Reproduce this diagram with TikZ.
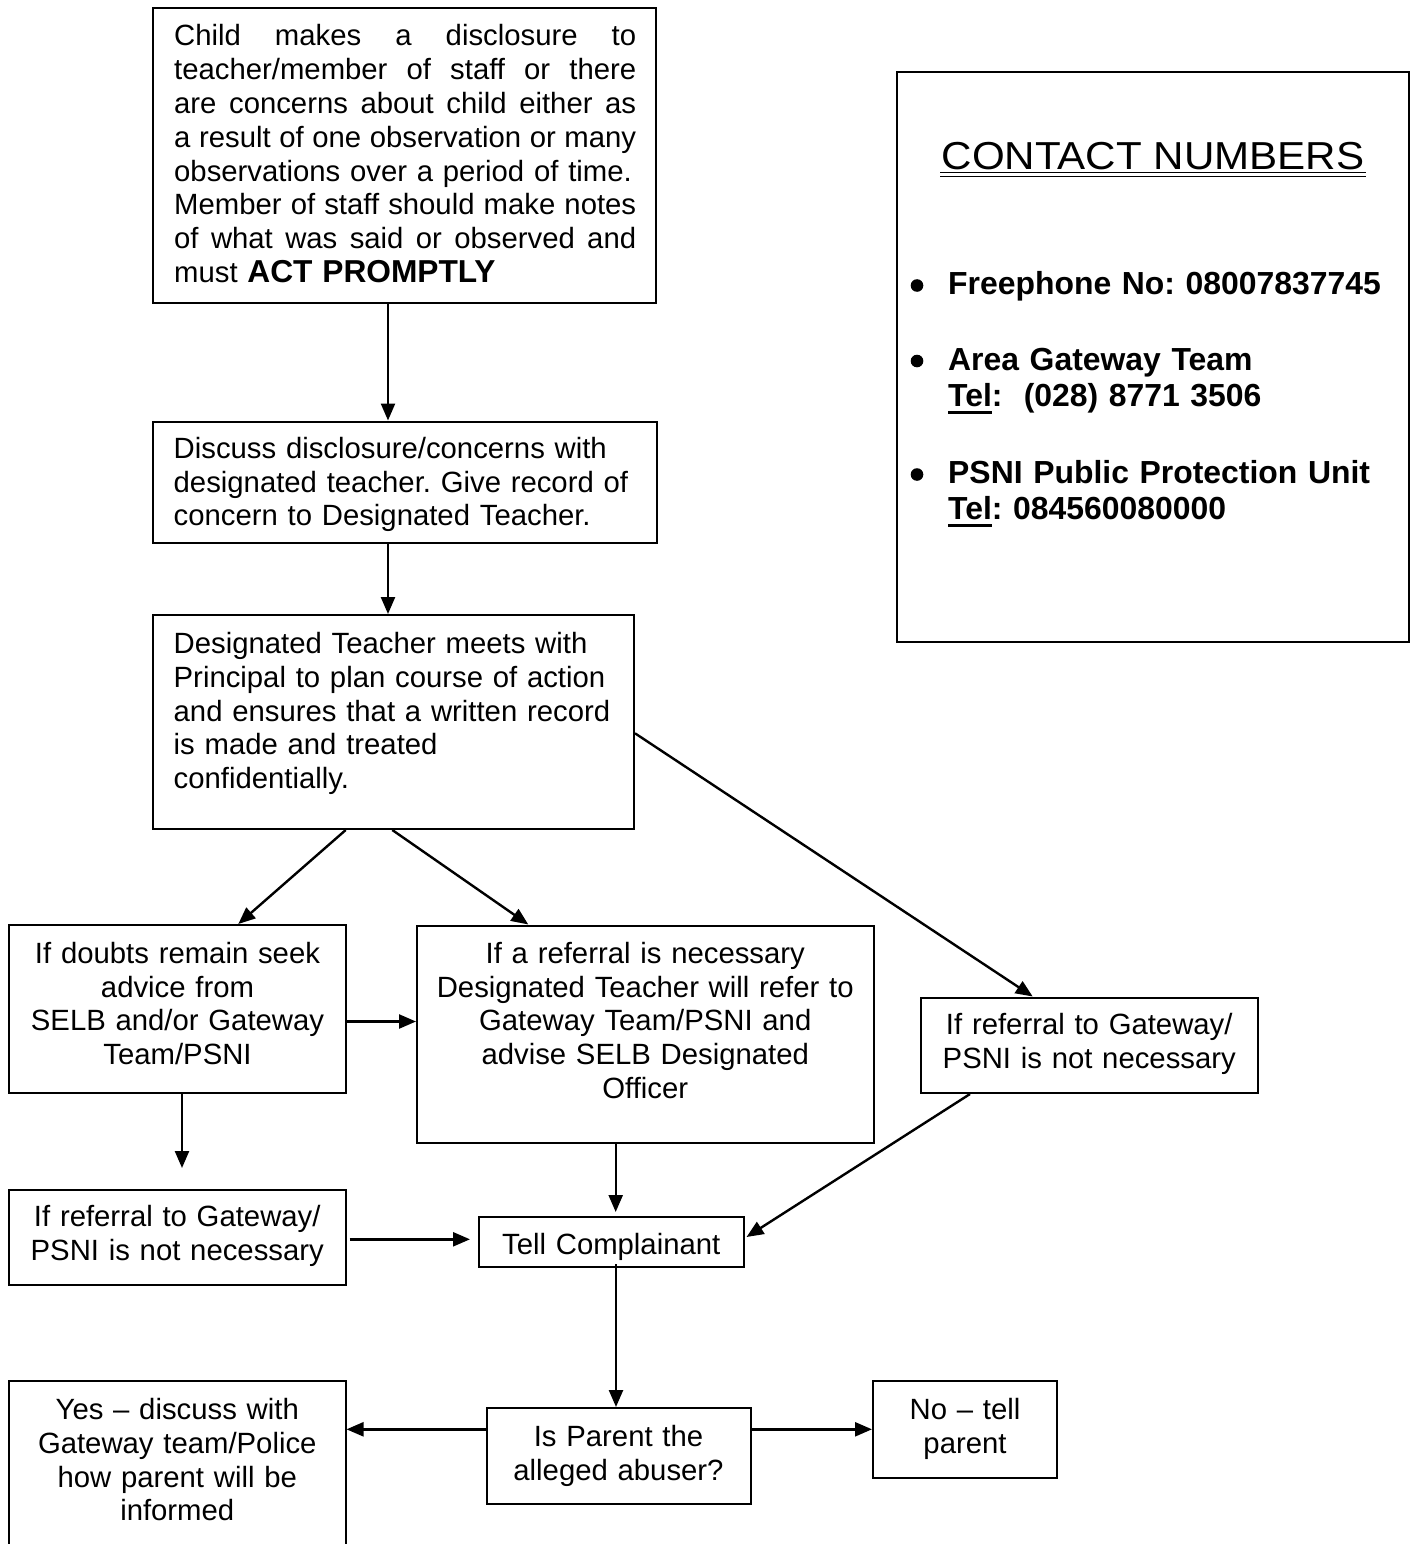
\documentclass[tikz,border=0pt]{standalone}
\usepackage{fontspec}
\setmainfont{Liberation Sans}
\usepackage{graphicx}
\usetikzlibrary{arrows.meta,calc}
\frenchspacing
\newcommand\bodyfont{\fontsize{29.3}{33.8}\selectfont\frenchspacing}
\newcommand\listfont{\fontsize{31.9}{36.5}\selectfont\bfseries\frenchspacing}
\newcommand\myul[1]{\leavevmode\setbox0\hbox{#1}\rlap{\rule[-7.5pt]{\wd0}{3pt}}\box0}
\newcommand\jl[1]{\leavevmode\hbox to 462pt{\spaceskip=\fontdimen2\font plus 1fil\relax #1}}
\begin{document}
\begin{tikzpicture}[x=1pt,y=-1pt,
  box/.style={draw,line width=2pt,rectangle,inner sep=0pt},
  txt/.style={inner sep=0pt,font=\bodyfont,execute at begin node=\strut,yshift=23.66pt},
  ltxt/.style={txt,anchor=north west,align=left,text width=#1},
  ctxt/.style={txt,anchor=north,align=center,text width=#1},
  arr/.style={line width=2.4pt,-{Triangle[length=17pt,width=14pt]}},
]
\useasboundingbox (0,0) rectangle (1411,1544);
\fill[white] (0,0) rectangle (1411,1544);
\clip (0,0) rectangle (1411,1544);

% boxes
\node[box,minimum width=503.5pt,minimum height=294.5pt] (A) at (404.25,155.25) {};
\node[box,minimum width=504.5pt,minimum height=121pt] (B) at (404.75,482) {};
\node[box,minimum width=481pt,minimum height=214pt] (C) at (393.5,722) {};
\node[box,minimum width=337pt,minimum height=168pt] (D) at (177.5,1009) {};
\node[box,minimum width=456.5pt,minimum height=217.5pt] (E) at (645.25,1034.25) {};
\node[box,minimum width=336.5pt,minimum height=95.5pt] (F) at (1089.25,1045.25) {};
\node[box,minimum width=336.5pt,minimum height=95.5pt] (G) at (177.25,1237.25) {};
\node[box,minimum width=264.5pt,minimum height=50pt] (H) at (611.25,1242) {};
\node[box,minimum width=264pt,minimum height=96pt] (I) at (618.5,1456) {};
\node[box,minimum width=336.5pt,minimum height=179pt] (J) at (177.25,1470.5) {};
\node[box,minimum width=184pt,minimum height=96.5pt] (K) at (965,1429.25) {};
\node[box,minimum width=512pt,minimum height=570pt] (CN) at (1153,357) {};

% texts
\node[ltxt=470pt] (At) at (174,45.7) {\jl{Child makes a disclosure to}\\\jl{teacher/member of staff or there}\\\jl{are concerns about child either as}\\\jl{a result of one observation or many}\\observations over a period of time.\\\jl{Member of staff should make notes}\\\jl{of what was said or observed and}\\must {\fontsize{31.7}{33.8}\selectfont\bfseries ACT PROMPTLY}};
\node[ltxt=475pt] (Bt) at (173.5,458) {Discuss disclosure/concerns with\\designated teacher. Give record of\\concern to Designated Teacher.};
\node[ltxt=455pt] (Ct) at (173.5,653.3) {Designated Teacher meets with\\Principal to plan course of action\\and ensures that a written record\\is made and treated\\confidentially.};
\node[ctxt=330pt] (Dt) at (177.5,963) {If doubts remain seek\\advice from\\SELB and/or Gateway\\Team/PSNI};
\node[ctxt=450pt] (Et) at (645.25,963) {If a referral is necessary\\Designated Teacher will refer to\\Gateway Team/PSNI and\\advise SELB Designated\\Officer};
\node[ctxt=330pt] (Ft) at (1089.25,1034.3) {If referral to Gateway/\\PSNI is not necessary};
\node[ctxt=330pt] (Gt) at (177.25,1226.7) {If referral to Gateway/\\PSNI is not necessary};
\node[ctxt=260pt] (Ht) at (611.25,1254) {Tell Complainant};
\node[ctxt=260pt] (It) at (618.5,1446.7) {Is Parent the\\alleged abuser?};
\node[ctxt=330pt] (Jt) at (177.25,1419.3) {Yes – discuss with\\Gateway team/Police\\how parent will be\\informed};
\node[ctxt=180pt] (Kt) at (965,1419.3) {No – tell\\parent};

% contact box
\node[inner sep=0pt,anchor=base,font=\fontsize{39}{45}\selectfont] (CNt) at (1153,169.4) {\scalebox{1.08}[1]{CONTACT NUMBERS}};
\draw[line width=1.3pt] ([xshift=-1pt,yshift=-3.2pt]CNt.base west) -- ([xshift=1pt,yshift=-3.2pt]CNt.base east);
\draw[line width=1.3pt] ([xshift=-1pt,yshift=-6.8pt]CNt.base west) -- ([xshift=1pt,yshift=-6.8pt]CNt.base east);
\node[inner sep=0pt,anchor=north west,align=left,text width=455pt,font=\listfont,execute at begin node=\strut,yshift=25.55pt] (CNl) at (948,294.5) {Freephone No: 08007837745\\[39pt]Area Gateway Team\\\myul{Tel}:\ \ (028) 8771 3506\\[40pt]PSNI Public Protection Unit\\\myul{Tel}: 084560080000};
\fill (917,285.5) circle (6.3pt);
\fill (917,361) circle (6.3pt);
\fill (917,474.5) circle (6.3pt);

% connector helper coordinates
\coordinate (xAB) at (388,0);
\coordinate (c1) at (345.7,0);
\coordinate (d1) at (238.3,0);
\coordinate (c2) at (392.3,0);
\coordinate (e1) at (528.3,0);
\coordinate (ycf) at (0,733.3);
\coordinate (xcf) at (1032.7,0);
\coordinate (yde) at (0,1021.5);
\coordinate (dn) at (182,1168);
\coordinate (xeh) at (615.7,0);
\coordinate (xfh) at (970,0);
\coordinate (yfh) at (0,1237);
\coordinate (ygh) at (0,1239.3);
\coordinate (xhi) at (616,0);
\coordinate (yij) at (0,1429.3);

% connectors
\draw[arr] (A.south -| xAB) -- (B.north -| xAB);
\draw[arr] (B.south -| xAB) -- (C.north -| xAB);
\draw[arr] (C.south -| c1) -- (D.north -| d1);
\draw[arr] (C.south -| c2) -- (E.north -| e1);
\draw[arr] (C.east |- ycf) -- (F.north -| xcf);
\draw[arr] (D.east |- yde) -- (E.west |- yde);
\draw[arr] (D.south -| dn) -- (dn);
\draw[arr] (E.south -| xeh) -- ($(H.north -| xeh)+(0,-4)$);
\draw[arr] (F.south -| xfh) -- ($(H.east |- yfh)+(2,0)$);
\draw[arr] ($(G.east |- ygh)+(3,0)$) -- ($(H.west |- ygh)+(-8,0)$);
\draw[arr] ($(H.south -| xhi)+(0,-4)$) -- (I.north -| xhi);
\draw[arr] (I.west |- yij) -- (J.east |- yij);
\draw[arr] (I.east |- yij) -- (K.west |- yij);
\end{tikzpicture}
\end{document}
